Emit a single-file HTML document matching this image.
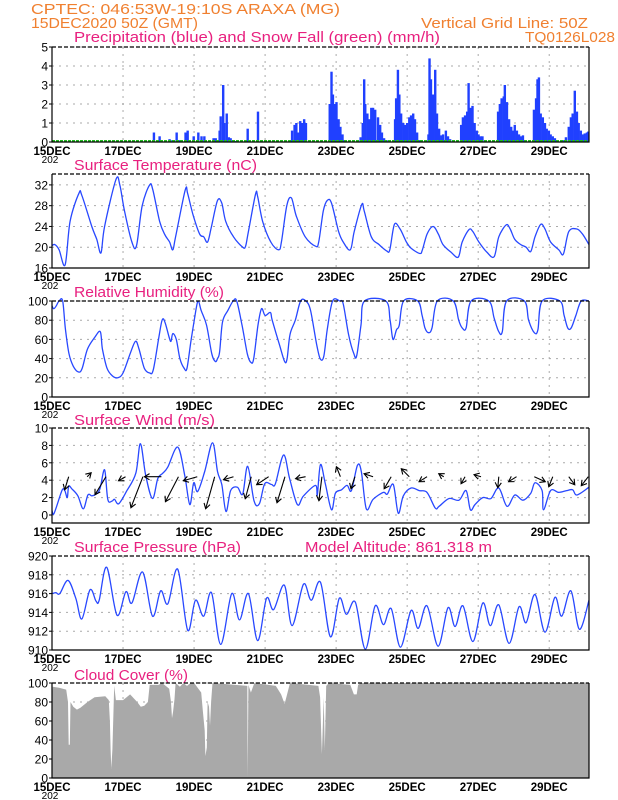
<!DOCTYPE html>
<html><head><meta charset="utf-8"><style>
html,body{margin:0;padding:0;background:#fff;width:618px;height:800px;overflow:hidden}
svg{display:block;font-family:"Liberation Sans",sans-serif}
</style></head><body>
<svg id="chart" width="618" height="800" viewBox="0 0 618 800">
<g fill="#f08030" font-size="15">
<text x="31" y="14" textLength="309" lengthAdjust="spacingAndGlyphs">CPTEC:   046:53W-19:10S   ARAXA (MG)</text>
<text x="31" y="28" textLength="167" lengthAdjust="spacingAndGlyphs">15DEC2020 50Z (GMT)</text>
<text x="421" y="28" textLength="167" lengthAdjust="spacingAndGlyphs">Vertical Grid Line: 50Z</text>
<text x="525" y="42" textLength="90" lengthAdjust="spacingAndGlyphs">TQ0126L028</text>
</g>
<g fill="#e8207f" font-size="15">
<text x="74" y="42" textLength="366" lengthAdjust="spacingAndGlyphs">Precipitation (blue) and Snow Fall (green) (mm/h)</text>
<text x="74" y="170" textLength="183" lengthAdjust="spacingAndGlyphs">Surface Temperature (nC)</text>
<text x="74" y="297" textLength="150" lengthAdjust="spacingAndGlyphs">Relative Humidity (%)</text>
<text x="74" y="425" textLength="141" lengthAdjust="spacingAndGlyphs">Surface Wind (m/s)</text>
<text x="74" y="552" textLength="167" lengthAdjust="spacingAndGlyphs">Surface Pressure (hPa)</text>
<text x="305" y="552" textLength="187" lengthAdjust="spacingAndGlyphs">Model Altitude: 861.318 m</text>
<text x="74" y="680" textLength="114" lengthAdjust="spacingAndGlyphs">Cloud Cover (%)</text>
</g>
</svg>
<script>
const dayLabels=["15DEC","17DEC","19DEC","21DEC","23DEC","25DEC","27DEC","29DEC"];
const precipT=[2.87,3.03,3.31,3.39,3.51,3.60,3.76,3.82,3.99,4.12,4.21,4.29,4.55,4.61,4.72,4.75,4.82,4.85,4.92,4.98,5.03,5.17,5.51,5.80,6.76,6.83,6.88,6.94,6.99,7.04,7.10,7.15,7.82,7.87,7.91,7.96,8.01,8.07,8.12,8.18,8.24,8.69,8.75,8.79,8.82,8.88,8.94,8.99,9.04,9.10,9.18,9.24,9.29,9.35,9.42,9.66,9.69,9.74,9.78,9.83,9.89,9.94,10.0,10.06,10.11,10.17,10.22,10.28,10.34,10.60,10.63,10.67,10.73,10.79,10.84,10.90,10.96,11.01,11.09,11.15,11.21,11.52,11.57,11.63,11.69,11.73,11.78,11.84,11.90,11.96,12.01,12.07,12.12,12.56,12.61,12.66,12.72,12.75,12.81,12.87,12.93,12.98,13.03,13.09,13.15,13.20,13.26,13.57,13.63,13.67,13.71,13.76,13.82,13.88,13.93,13.99,14.04,14.10,14.16,14.21,14.38,14.47,14.55,14.61,14.66,14.72,14.78,14.83,14.89,14.94,15.0,15.06,15.10];
const precipV=[0.5,0.3,0.15,0.1,0.5,0.1,0.5,0.6,0.3,0.5,0.3,0.3,0.2,0.2,0.6,1.35,3.0,1.0,1.5,0.25,0.2,0.05,0.7,1.6,0.6,0.9,1.0,0.5,1.1,1.0,1.2,1.0,2.0,3.7,2.5,2.0,2.1,1.2,0.8,0.4,0.1,0.25,1.0,3.3,2.0,1.5,1.2,1.8,1.8,1.7,1.3,0.9,0.5,0.2,0.1,1.2,2.3,3.8,2.5,1.5,1.0,0.9,1.0,1.3,1.4,1.5,1.2,0.5,0.1,0.4,4.4,3.3,2.5,3.8,1.5,0.7,0.35,0.4,0.6,0.3,0.15,0.9,1.3,1.4,1.6,3.1,1.8,1.9,1.0,0.6,0.4,0.3,0.3,1.6,2.0,2.3,2.4,3.0,2.1,1.2,0.8,0.6,0.9,0.6,0.4,0.3,0.35,1.7,2.3,3.3,3.4,1.5,1.3,1.0,0.7,0.6,0.4,0.3,0.2,0.1,0.1,0.25,0.8,1.3,1.5,2.7,1.6,1.0,0.6,0.4,0.45,0.5,0.55];
const tempT=[0,0.08,0.2,0.37,0.51,0.76,0.84,1.12,1.26,1.38,1.48,1.80,1.91,2.04,2.25,2.38,2.54,2.75,2.84,3.03,3.17,3.31,3.40,3.48,3.75,3.82,3.98,4.16,4.27,4.38,4.49,4.66,4.78,4.89,5.11,5.37,5.45,5.53,5.73,5.79,5.93,6.16,6.38,6.46,6.61,6.74,6.88,7.13,7.42,7.51,7.64,7.75,7.87,8.07,8.20,8.40,8.51,8.72,8.79,8.99,9.21,9.42,9.51,9.64,9.80,9.98,10.11,10.36,10.43,10.56,10.73,10.88,11.01,11.24,11.44,11.55,11.74,11.85,12.02,12.25,12.45,12.58,12.79,12.90,13.03,13.20,13.35,13.48,13.60,13.76,13.88,14.04,14.27,14.40,14.55,14.78,14.94,15.12];
const tempV=[20.3,20.5,19.5,16.6,25,30.4,30,24,21.5,18.9,24,33,32,27,21,20.3,28,32,31,25,22.5,21,19.5,22,31,30.3,26,22.5,22,21,24,29,28.5,25,22,20,20.2,23,30.2,29.8,25,21,19.5,21,28,29.5,26,22,20.2,21,27,29,28.5,23,21,19.5,23,28.2,27,22,20.5,19.3,19.5,24.4,23.5,21,19.8,18.8,19.5,22.5,24,22.5,20.5,19,18.1,21,23.4,23,21,19,18.2,22,24.3,23.5,21.5,20.5,20,19.2,22,24.4,23.5,21,19.5,18.7,23,23.5,22.5,20.5];
const rhT=[0,0.05,0.12,0.2,0.3,0.38,0.48,0.6,0.75,0.85,1.0,1.2,1.36,1.42,1.55,1.7,1.85,2.0,2.2,2.35,2.45,2.6,2.75,2.85,3.0,3.1,3.18,3.3,3.35,3.4,3.5,3.6,3.72,3.8,3.92,4.05,4.12,4.2,4.35,4.5,4.6,4.66,4.72,4.8,4.95,5.1,5.2,5.35,5.5,5.6,5.68,5.8,5.9,6.0,6.15,6.2,6.4,6.55,6.62,6.7,6.85,7.0,7.15,7.28,7.45,7.55,7.65,7.75,7.9,8.1,8.2,8.35,8.5,8.58,8.7,8.8,9.4,9.52,9.6,9.7,9.78,9.9,10.3,10.42,10.5,10.6,10.7,10.85,11.3,11.45,11.55,11.66,11.8,12.3,12.45,12.58,12.68,12.8,13.3,13.42,13.58,13.68,13.8,14.3,14.42,14.52,14.62,14.75,14.9,15.12];
const rhV=[95,92,95,100,100,70,45,32,26,30,50,62,68,50,30,22,20,25,45,58,50,30,25,28,60,80,78,62,58,66,60,40,30,30,60,90,100,90,75,45,37,40,47,78,90,100,100,75,45,36,40,75,92,85,88,80,55,37,40,65,80,100,100,90,55,40,42,70,100,100,97,65,45,43,75,100,100,80,60,70,75,100,100,85,72,67,72,100,100,80,72,72,100,100,82,68,68,100,100,80,67,70,100,100,85,72,72,85,100,100];
const windT=[0,0.06,0.28,0.36,0.43,0.47,0.56,0.73,0.88,1.01,1.12,1.24,1.35,1.48,1.57,1.69,1.76,1.88,2.11,2.36,2.49,2.64,2.83,2.98,3.12,3.26,3.54,3.74,3.88,3.99,4.10,4.30,4.52,4.66,4.78,4.90,5.03,5.22,5.37,5.51,5.69,5.84,5.99,6.18,6.29,6.52,6.69,6.91,7.08,7.42,7.47,7.56,7.70,7.87,7.98,8.15,8.31,8.43,8.60,8.71,8.85,9.04,9.33,9.44,9.61,9.75,9.89,10.11,10.34,10.56,10.79,10.90,11.18,11.46,11.66,11.78,11.91,12.13,12.36,12.58,12.81,13.03,13.26,13.48,13.60,13.80,13.84,14.04,14.27,14.49,14.66,14.78,15.12];
const windV=[0.5,0.2,2.8,2.8,2,3.3,3,2.2,0.7,2.3,2.2,2.4,3,5.2,1.8,1.6,1.8,1.3,2.8,4.8,8.2,4.5,1.9,4.2,4.8,5.5,7.8,4.5,1.2,3.7,2.7,5,8.3,5,3.5,0.4,2.8,3.2,2.4,5.6,1.6,1.3,3.6,3.5,3.6,6.9,4.2,1.2,2.2,3.4,2.3,5.8,3.5,0.6,2.5,2.9,3.4,2.8,5.7,5,0.7,1.8,2.6,2.4,3.5,0.2,2.2,3.1,2.8,2.6,0.8,1,1.9,1.7,2.8,0.6,1.2,2,1.9,3.1,1,2.3,1.7,2.5,3.7,2.8,0.6,2.8,2.6,2.8,2.9,2.3,3.2];
const arrowT=[0.47,0.99,1.52,2.07,2.56,3.08,3.56,4.09,4.58,5.11,5.61,6.10,6.56,7.14,7.6,8.12,8.53,9.04,9.55,10.06,10.56,11.03,11.63,12.08,12.58,13.08,13.58,14.1,14.55,15.1];
const arrowU=[-4,4,-11,-7,-12,-17,-13,-14,-9,-10,-6,-12,-8,-10,-3,-4,-4,-9,-7,-8,-8,-5,-4,-7,-1,-8,11,-4,6,-7];
const arrowV=[-13,4,-18,-4,-31,0,-25,-4,-32,-3,-22,-8,-26,-2,-24,10,-12,3,-12,8,-5,3,-7,2,-11,-5,-5,-10,-8,-9];
const presT=[0,.11,.22,.45,.67,.84,1.07,1.24,1.33,1.54,1.83,2.08,2.25,2.55,2.83,3.06,3.26,3.54,3.82,4.04,4.27,4.49,4.75,5.06,5.28,5.53,5.79,6.04,6.24,6.54,6.76,7.08,7.30,7.56,7.84,8.09,8.29,8.54,8.82,9.10,9.33,9.55,9.81,10.11,10.31,10.56,10.87,11.15,11.35,11.57,11.85,12.13,12.34,12.58,12.87,13.15,13.35,13.60,13.88,14.16,14.35,14.61,14.85,15.12];
const presV=[916,916.1,916,917.4,915.5,913.3,916.4,915.2,915.3,918.8,913.7,916.2,915,918.3,913.6,916.3,914.9,918.6,912.1,915.3,913.6,916.1,910.6,916,913.2,916,911,915.5,914.3,916.9,912.6,917,915.3,917.2,911.4,915.5,913.8,915.1,910.1,914.7,912.7,914.4,910.3,914.2,912.3,914.7,910.4,914.5,912.5,914.7,910.9,915,912.6,914.8,910.7,914.6,912.9,915.9,911.9,915.6,913.6,916.3,912.2,915.3];
const cloudT=[0,.02,.2,.4,.45,.47,.5,.52,.6,.7,.8,1.0,1.2,1.5,1.6,1.63,1.65,1.67,1.7,1.75,1.8,2.0,2.2,2.4,2.5,2.6,2.7,2.75,3.0,3.1,3.2,3.3,3.35,3.38,3.41,3.45,3.48,3.6,3.7,3.8,3.9,4.0,4.2,4.25,4.3,4.32,4.36,4.38,4.42,4.45,4.48,4.52,5.5,5.51,5.53,5.6,5.7,6.3,6.45,6.55,6.62,6.7,7.5,7.55,7.6,7.65,7.68,7.72,7.8,8.4,8.5,8.58,8.62,8.7,9.0,15.12];
const cloudV=[78,96,95,93,80,35,35,80,75,72,74,80,85,86,82,60,30,10,30,97,82,82,88,80,75,76,80,98,98,100,97,94,80,63,70,83,100,96,100,97,100,100,90,70,50,23,32,80,75,55,80,100,97,0,98,90,100,97,88,78,88,100,97,85,25,85,30,97,100,98,88,88,98,100,100,100];

const NS="http://www.w3.org/2000/svg";
const svg=document.getElementById('chart');
const L=52,R=589,D0=0,D1=15.12;
const xS=d=>L+(d-D0)/(D1-D0)*(R-L);
function mk(tag,attrs,parent){const e=document.createElementNS(NS,tag);for(const k in attrs)e.setAttribute(k,attrs[k]);(parent||svg).appendChild(e);return e;}
function smooth(pts){let d="M"+pts[0][0].toFixed(1)+","+pts[0][1].toFixed(1);for(let i=0;i<pts.length-1;i++){const p0=pts[Math.max(0,i-1)],p1=pts[i],p2=pts[i+1],p3=pts[Math.min(pts.length-1,i+2)];const c1x=p1[0]+(p2[0]-p0[0])/6,c1y=p1[1]+(p2[1]-p0[1])/6,c2x=p2[0]-(p3[0]-p1[0])/6,c2y=p2[1]-(p3[1]-p1[1])/6;d+=" C"+c1x.toFixed(1)+","+c1y.toFixed(1)+" "+c2x.toFixed(1)+","+c2y.toFixed(1)+" "+p2[0].toFixed(1)+","+p2[1].toFixed(1);}return d;}
function panel(name,top,bot,vmin,vmax,ticks){
  const g=mk('g',{});
  
  
  const yS=v=>bot-(v-vmin)/(vmax-vmin)*(bot-top);
  ticks.forEach(t=>{const y=yS(t);
    const gl=mk('line',{x1:L,x2:R,y1:y,y2:y,stroke:'#aaa','stroke-dasharray':'2,5','stroke-width':1},g);
    
    
    const tl=mk('text',{x:L-4,y:y+4.5,'text-anchor':'end','font-size':12,fill:'#000'},g);
    tl.textContent=t;
    
    
    mk('line',{x1:L-3,x2:L,y1:y,y2:y,stroke:'#000'},g);
  });
  for(let d=2;d<15;d+=2){const vl=mk('line',{x1:xS(d),x2:xS(d),y1:top,y2:bot,stroke:'#aaa','stroke-dasharray':'2,5'},g);
    
    }
  dayLabels.forEach((lb,i)=>{const t=mk('text',{x:xS(i*2),y:bot+13,'text-anchor':'middle','font-size':12,'font-weight':'bold',fill:'#000',textLength:37,lengthAdjust:'spacingAndGlyphs'},g);
    t.textContent=lb;
    
    });
  const yr=mk('text',{x:L-2,y:bot+21,'text-anchor':'middle','font-size':10,fill:'#000'},g);
  yr.textContent='202';
  
  
  return {g,yS,top,bot};
}
function frame(p,name){
  const f=mk('path',{d:`M${L},${p.top} L${L},${p.bot} L${R},${p.bot} L${R},${p.top}`,fill:'none',stroke:'#000','stroke-width':1.2},p.g);
  
  
  mk('line',{x1:L,x2:R,y1:p.top,y2:p.top,stroke:'#000','stroke-width':1.2,'stroke-dasharray':'4,2'},p.g);
}
function line(p,T,V,name){
  const pts=T.map((t,i)=>[xS(t),p.yS(V[i])]);
  const e=mk('path',{d:smooth(pts),fill:'none',stroke:'#2848ff','stroke-width':1.3},p.g);
  
  
}
const p1=panel('precip',47,142,0,5,[0,1,2,3,4,5]);
precipT.forEach((t,i)=>{const y=p1.yS(precipV[i]);
  const b=mk('rect',{x:xS(t)-1.2,y:y,width:2.4,height:p1.bot-y,fill:'#2040ff'},p1.g);
  
  });
const sn=mk('line',{x1:L,x2:R,y1:141,y2:141,stroke:'#22bb22','stroke-width':2,'stroke-dasharray':'3,1'},p1.g);


frame(p1,'precip');
const p2=panel('temperature',174,268,16,34.1,[16,20,24,28,32]);
line(p2,tempT,tempV,'temperature-line');frame(p2,'temperature');
const p3=panel('humidity',301,397,0,100,[0,20,40,60,80,100]);
line(p3,rhT,rhV,'humidity-line');frame(p3,'humidity');
const p4=panel('wind',428,523,-0.92,10,[0,2,4,6,8,10]);
line(p4,windT,windV,'wind-speed-line');
arrowT.forEach((t,i)=>{const x=xS(t),y=p4.yS(4.4);const hx=x+arrowU[i],hy=y-arrowV[i];
  const a=mk('g',{},p4.g);
  
  
  mk('line',{x1:x,y1:y,x2:hx,y2:hy,stroke:'#000','stroke-width':1.1},a);
  const ang=Math.atan2(hy-y,hx-x),h=6;
  mk('path',{d:`M${hx+h*Math.cos(ang+2.6)},${hy+h*Math.sin(ang+2.6)} L${hx},${hy} L${hx+h*Math.cos(ang-2.6)},${hy+h*Math.sin(ang-2.6)}`,fill:'none',stroke:'#000','stroke-width':1.1},a);
});
frame(p4,'wind');
const p5=panel('pressure',556,650,910,920,[910,912,914,916,918,920]);
line(p5,presT,presV,'pressure-line');frame(p5,'pressure');
const p6=panel('cloud',683,778,0,100,[0,20,40,60,80,100]);
let cd=`M${xS(cloudT[0])},${p6.bot}`;
cloudT.forEach((t,i)=>{cd+=` L${xS(t).toFixed(1)},${p6.yS(cloudV[i]).toFixed(1)}`;});
cd+=` L${R},${p6.bot} Z`;
const ca=mk('path',{d:cd,fill:'#a9a9a9',stroke:'none'},p6.g);


frame(p6,'cloud');
</script>
</body></html>
